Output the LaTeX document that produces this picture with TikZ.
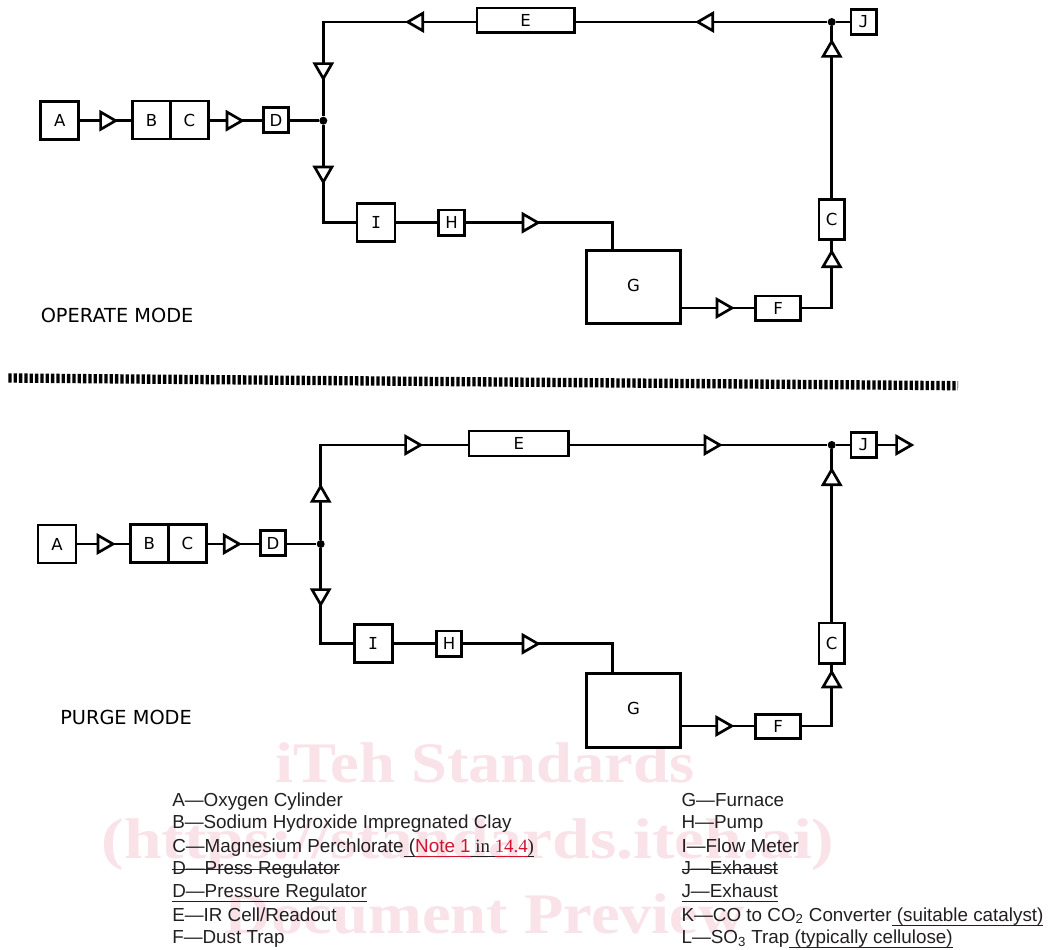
\documentclass[tikz,border=0pt]{standalone}
\usepackage{fontspec}
\usetikzlibrary{shapes.geometric}
\setmainfont{DejaVu Sans}
\newfontfamily\monoglyph{DejaVu Sans Mono}
\newfontfamily\legendfont{Liberation Sans}
\newfontfamily\notefont{Liberation Serif}
\newfontfamily\stampfont[FakeStretch=1.125]{Liberation Serif}
\newfontfamily\stampwide[FakeStretch=1.18]{Liberation Serif}
\definecolor{inkdark}{HTML}{231F20}
\definecolor{notered}{HTML}{D2122E}
\definecolor{stamppink}{HTML}{F9E2E8}
\newsavebox{\linedbox}
\newcommand{\underseg}[1]{\sbox{\linedbox}{#1}\rlap{\rule[-3.3pt]{\wd\linedbox}{0.6pt}}\usebox{\linedbox}}
\newcommand{\strikeseg}[1]{\sbox{\linedbox}{#1}\rlap{\rule[3.5pt]{\wd\linedbox}{0.6pt}}\usebox{\linedbox}}
\tikzset{
  unitbox/.style={draw, rectangle, line width=2pt, inner sep=0pt, outer sep=0pt, fill=white, font=\fontsize{12.4}{14}\selectfont},
  bigunit/.style={unitbox, minimum width=28.5pt, minimum height=28.5pt},
  smallunit/.style={unitbox, minimum width=19.2pt, minimum height=19pt},
  flowtri/.style={draw, regular polygon, regular polygon sides=3, line width=2pt, minimum size=15pt, inner sep=0pt, outer sep=0pt, fill=white, anchor=side 2},
  triright/.style={flowtri, shape border rotate=-90},
  trileft/.style={flowtri, shape border rotate=90},
  triup/.style={flowtri},
  tridown/.style={flowtri, shape border rotate=180},
  junction/.style={circle, fill=black, inner sep=0pt, minimum size=6pt},
  pipe/.style={line width=2pt},
  modelabel/.style={anchor=base west, inner sep=0pt, font=\fontsize{14.5}{17}\selectfont},
  legendtxt/.style={anchor=base west, inner sep=0pt, text=inkdark, font=\legendfont\fontsize{14.13}{16}\selectfont},
  stamptxt/.style={anchor=base, inner sep=0pt, text=stamppink, font=\stampfont\bfseries\fontsize{43}{50}\selectfont}
}
\begin{document}
\begin{tikzpicture}[x=0.75pt,y=-0.75pt]
\useasboundingbox (0,0) rectangle (1048,949);

\node[stamptxt] (stampa) at (485,782) {iTeh Standards};
\node[stamptxt] (stampb) at (468,858) {\stampwide\bfseries (https://standards.iteh.ai)};
\node[stamptxt] (stampc) at (485,933) {Document Preview};

\node[bigunit] (topA) at (59.7,120.7) {A};
\node[triright] (topf1) at (100.6,120.7) {};
\node[bigunit] (topB) at (151.5,120) {B};
\node[bigunit] (topC) at (189.5,120) {C};
\node[triright] (topf2) at (227,120.7) {};
\node[smallunit] (topD) at (276,120) {D};
\node[junction] (topdot) at (323.3,120.7) {};
\node[tridown] (topfu) at (323.3,63.6) {};
\node[tridown] (topfl) at (323.3,167) {};
\node[bigunit] (topI) at (376,222.7) {\monoglyph I};
\node[smallunit] (topH) at (451.5,222.7) {H};
\node[triright] (topfH) at (523,222.7) {};
\coordinate (topstub) at (612.7,250);
\node[unitbox, minimum width=70.9pt, minimum height=55.2pt, text depth=2.7pt] (topG) at (633.5,287) {G};
\node[triright] (topfG) at (717,308) {};
\node[unitbox, minimum width=34.1pt, minimum height=18.4pt] (topF) at (778,308.3) {F};
\node[triup] (topfF) at (831.7,266.7) {};
\node[unitbox, minimum width=19pt, minimum height=30pt] (topK) at (831.7,219.7) {C};
\node[triup] (topfK) at (831.7,56.4) {};
\node[junction] (topdotJ) at (831.7,22) {};
\node[smallunit] (topJ) at (863.7,22) {\monoglyph J};
\node[trileft] (topfE) at (712.7,22) {};
\node[unitbox, minimum width=73.1pt, minimum height=18.2pt] (topE) at (525.7,20.2) {E};
\node[trileft] (topfU) at (422.7,22) {};

\draw[pipe] (topA.east) -- (topf1.side 2);
\draw[pipe] (topf1.corner 1) -- (topB.west |- topf1.corner 1);
\draw[pipe] (topC.east |- topf2.side 2) -- (topf2.side 2);
\draw[pipe] (topf2.corner 1) -- (topD.west |- topf2.corner 1);
\draw[pipe] (topD.east |- topdot) -- (topdot);
\draw[pipe] (topdotJ) -- (topJ.west);
\draw[pipe] (topdotJ) -- (topfE.side 2);
\draw[pipe] (topfE.corner 1) -- (topE.east |- topfE.corner 1);
\draw[pipe] (topE.west |- topfU.side 2) -- (topfU.side 2);
\draw[pipe] (topfU.corner 1) -| (topfu.side 2);
\draw[pipe] (topfu.corner 1) -- (topdot);
\draw[pipe] (topdot) -- (topfl.side 2);
\draw[pipe] (topfl.corner 1) |- (topI.west);
\draw[pipe] (topI.east) -- (topH.west);
\draw[pipe] (topH.east) -- (topfH.side 2);
\draw[pipe] (topfH.corner 1) -| (topstub);
\draw[pipe] (topG.east |- topfG.side 2) -- (topfG.side 2);
\draw[pipe] (topfG.corner 1) -- (topF.west |- topfG.corner 1);
\draw[pipe] (topF.east |- topfG.corner 1) -| (topfF.side 2);
\draw[pipe] (topfF.corner 1) -- (topK.south);
\draw[pipe] (topK.north) -- (topfK.side 2);
\draw[pipe] (topfK.corner 1) -- (topdotJ);

\node[modelabel] (topmode) at (40.5,322) {OPERATE MODE};

\coordinate (dividerL) at (8.3,378);
\coordinate (dividerR) at (958,385.7);
\draw[line width=7pt, dash pattern=on 2.5pt off 1.5pt] (dividerL) -- (dividerR);

\node[bigunit] (botA) at (57,544) {A};
\node[triright] (botf1) at (98,544) {};
\node[bigunit] (botB) at (149.4,543.3) {B};
\node[bigunit] (botC) at (187.4,543.3) {C};
\node[triright] (botf2) at (224.3,544) {};
\node[smallunit] (botD) at (273,543) {D};
\node[junction] (botdot) at (320.7,544) {};
\node[triup] (botfu) at (320.7,501.4) {};
\node[tridown] (botfl) at (320.7,589.6) {};
\node[bigunit] (botI) at (373.2,643.8) {\monoglyph I};
\node[smallunit] (botH) at (449,643.8) {H};
\node[triright] (botfH) at (523,643.8) {};
\coordinate (botstub) at (612.7,673);
\node[unitbox, minimum width=70.9pt, minimum height=55.5pt, text depth=2.7pt] (botG) at (633.5,710.3) {G};
\node[triright] (botfG) at (716.7,726) {};
\node[unitbox, minimum width=34.1pt, minimum height=18.4pt] (botF) at (778,726.5) {F};
\node[triup] (botfF) at (831.7,687) {};
\node[unitbox, minimum width=19pt, minimum height=30.5pt] (botK) at (831.7,643.3) {C};
\node[triup] (botfK) at (831.7,484.7) {};
\node[junction] (botdotJ) at (831.7,445) {};
\node[smallunit] (botJ) at (863.7,445) {\monoglyph J};
\node[triright] (botfX) at (896.6,445) {};
\node[triright] (botfE) at (705,445) {};
\node[unitbox, minimum width=74.8pt, minimum height=18.8pt] (botE) at (518.8,443.5) {E};
\node[triright] (botfU) at (405.6,445) {};

\draw[pipe] (botA.east) -- (botf1.side 2);
\draw[pipe] (botf1.corner 1) -- (botB.west |- botf1.corner 1);
\draw[pipe] (botC.east |- botf2.side 2) -- (botf2.side 2);
\draw[pipe] (botf2.corner 1) -- (botD.west |- botf2.corner 1);
\draw[pipe] (botD.east |- botdot) -- (botdot);
\draw[pipe] (botdot) -- (botfu.side 2);
\draw[pipe] (botfu.corner 1) |- (botfU.side 2);
\draw[pipe] (botfU.corner 1) -- (botE.west |- botfU.corner 1);
\draw[pipe] (botE.east |- botfE.side 2) -- (botfE.side 2);
\draw[pipe] (botfE.corner 1) -- (botdotJ);
\draw[pipe] (botdotJ) -- (botJ.west);
\draw[pipe] (botJ.east) -- (botfX.side 2);
\draw[pipe] (botdot) -- (botfl.side 2);
\draw[pipe] (botfl.corner 1) |- (botI.west);
\draw[pipe] (botI.east) -- (botH.west);
\draw[pipe] (botH.east) -- (botfH.side 2);
\draw[pipe] (botfH.corner 1) -| (botstub);
\draw[pipe] (botG.east |- botfG.side 2) -- (botfG.side 2);
\draw[pipe] (botfG.corner 1) -- (botF.west |- botfG.corner 1);
\draw[pipe] (botF.east |- botfG.corner 1) -| (botfF.side 2);
\draw[pipe] (botfF.corner 1) -- (botK.south);
\draw[pipe] (botK.north) -- (botfK.side 2);
\draw[pipe] (botfK.corner 1) -- (botdotJ);

\node[modelabel] (botmode) at (60,724) {PURGE MODE};

\node[legendtxt] (legA) at (172,806) {A—Oxygen Cylinder};
\node[legendtxt] (legB) at (172,828.7) {B—Sodium Hydroxide Impregnated Clay};
\node[legendtxt] (legC) at (172,852) {C—Magnesium Perchlorate\underseg{ (}\textcolor{notered}{\underseg{Note 1}}{\notefont\underseg{ in }\textcolor{notered}{\underseg{14.4}}\underseg{)}}};
\node[legendtxt] (legDa) at (172,874.7) {\strikeseg{D—Press Regulator}};
\node[legendtxt] (legDb) at (172,897.7) {\underseg{D—Pressure Regulator}};
\node[legendtxt] (legE) at (172,921) {E—IR Cell/Readout};
\node[legendtxt] (legF) at (172,943.3) {F—Dust Trap};
\node[legendtxt] (legG) at (681.3,806) {G—Furnace};
\node[legendtxt] (legH) at (681.3,828.7) {H—Pump};
\node[legendtxt] (legI) at (681.3,852) {I—Flow Meter};
\node[legendtxt] (legJa) at (681.3,874.7) {\strikeseg{J—Exhaust}};
\node[legendtxt] (legJb) at (681.3,897.7) {\underseg{J—Exhaust}};
\node[legendtxt] (legK) at (681.3,921) {K—CO to CO\textsubscript{2} Converter\underseg{ (suitable catalyst)}};
\node[legendtxt] (legL) at (681.3,943.3) {L—SO\textsubscript{3} Trap\underseg{ (typically cellulose)}};
\end{tikzpicture}
\end{document}
